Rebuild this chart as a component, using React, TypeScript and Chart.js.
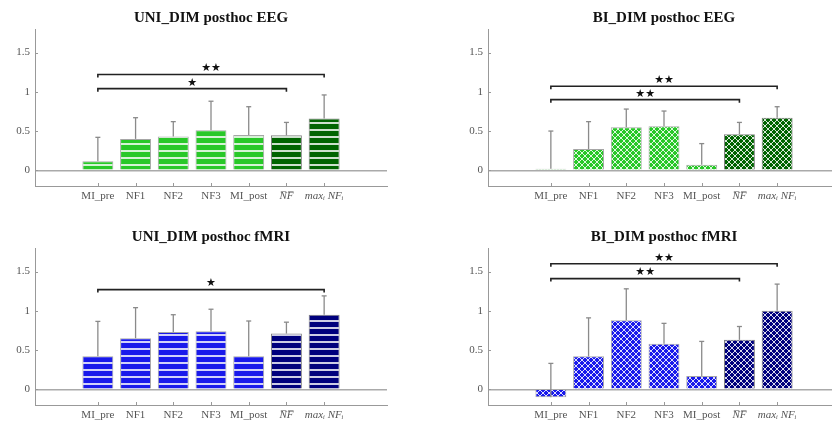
import React, { useEffect, useRef } from 'react';
import { Chart, registerables } from 'chart.js';
Chart.register(...registerables);

// ---------- data ----------
const categories = ['MI_pre', 'NF1', 'NF2', 'NF3', 'MI_post', 'N\u0305F\u0305', 'max\u1D62 NF\u1D62'];
const yTickValues = [0, 0.5, 1, 1.5];

const uniEegMean = [0.115, 0.40, 0.43, 0.51, 0.45, 0.445, 0.66];
const uniEegErr = [0.305, 0.27, 0.19, 0.37, 0.36, 0.165, 0.30];

const biEegMean = [0.02, 0.27, 0.55, 0.56, 0.07, 0.46, 0.67];
const biEegErr = [0.48, 0.35, 0.23, 0.195, 0.27, 0.15, 0.14];

const uniFmriMean = [0.42, 0.65, 0.73, 0.74, 0.42, 0.71, 0.95];
const uniFmriErr = [0.445, 0.39, 0.22, 0.28, 0.45, 0.145, 0.24];

const biFmriMean = [-0.10, 0.42, 0.88, 0.58, 0.17, 0.63, 1.00];
const biFmriErr = [0.43, 0.49, 0.40, 0.26, 0.44, 0.17, 0.34];

// significance brackets: [fromIndex, toIndex, y, label]
const uniEegSig: [number, number, number, string][] = [[1, 7, 1.22, '★★'], [1, 6, 1.04, '★']];
const biEegSig: [number, number, number, string][] = [[1, 7, 1.07, '★★'], [1, 6, 0.90, '★★']];
const uniFmriSig: [number, number, number, string][] = [[1, 7, 1.27, '★']];
const biFmriSig: [number, number, number, string][] = [[1, 7, 1.60, '★★'], [1, 6, 1.41, '★★']];

// ---------- styling helpers ----------
const LIGHT_GREEN = 'rgb(40,200,40)';
const DARK_GREEN = 'rgb(0,100,0)';
const LIGHT_BLUE = 'rgb(25,25,235)';
const DARK_BLUE = 'rgb(0,0,125)';

function stripePattern(color: string) {
  const c = document.createElement('canvas');
  c.width = 8; c.height = 7;
  const g = c.getContext('2d')!;
  g.fillStyle = color; g.fillRect(0, 0, 8, 7);
  g.fillStyle = 'rgba(255,255,255,0.8)';
  g.fillRect(0, 3, 8, 2);
  return g.createPattern(c, 'repeat')!;
}

function hatchPattern(color: string) {
  const s = 6;
  const c = document.createElement('canvas');
  c.width = s; c.height = s;
  const g = c.getContext('2d')!;
  g.fillStyle = color; g.fillRect(0, 0, s, s);
  g.strokeStyle = 'rgba(255,255,255,0.85)';
  g.lineWidth = 1.0;
  for (const k of [-s, 0, s]) {
    g.beginPath(); g.moveTo(k, 0); g.lineTo(k + s, s); g.stroke();
    g.beginPath(); g.moveTo(k + s, 0); g.lineTo(k, s); g.stroke();
  }
  return g.createPattern(c, 'repeat')!;
}

type Panel = {
  title: string;
  mean: number[];
  err: number[];
  sig: [number, number, number, string][];
  light: string;
  dark: string;
  kind: 'stripe' | 'hatch';
};

const panels: Panel[] = [
  { title: 'UNI_DIM posthoc EEG', mean: uniEegMean, err: uniEegErr, sig: uniEegSig, light: LIGHT_GREEN, dark: DARK_GREEN, kind: 'stripe' },
  { title: 'BI_DIM posthoc EEG', mean: biEegMean, err: biEegErr, sig: biEegSig, light: LIGHT_GREEN, dark: DARK_GREEN, kind: 'hatch' },
  { title: 'UNI_DIM posthoc fMRI', mean: uniFmriMean, err: uniFmriErr, sig: uniFmriSig, light: LIGHT_BLUE, dark: DARK_BLUE, kind: 'stripe' },
  { title: 'BI_DIM posthoc fMRI', mean: biFmriMean, err: biFmriErr, sig: biFmriSig, light: LIGHT_BLUE, dark: DARK_BLUE, kind: 'hatch' },
];

const SERIF = "'Liberation Serif', 'DejaVu Serif', serif";

function makeChart(canvas: HTMLCanvasElement, p: Panel) {
  const mk = p.kind === 'stripe' ? stripePattern : hatchPattern;
  const lightPat = mk(p.light);
  const darkPat = mk(p.dark);

  const overlay = {
    id: 'overlay',
    afterDatasetsDraw(chart: any) {
      const ctx = chart.ctx as CanvasRenderingContext2D;
      const xs = chart.scales.x;
      const ys = chart.scales.y;
      const area = chart.chartArea;
      ctx.save();
      // inward tick marks
      ctx.strokeStyle = '#999';
      ctx.lineWidth = 1;
      for (let i = 0; i < categories.length; i++) {
        const x = Math.round(xs.getPixelForValue(i + 1)) + 0.5;
        ctx.beginPath(); ctx.moveTo(x, area.bottom); ctx.lineTo(x, area.bottom - 3); ctx.stroke();
      }
      for (const v of yTickValues) {
        const y = Math.round(ys.getPixelForValue(v)) + 0.5;
        ctx.beginPath(); ctx.moveTo(area.left, y); ctx.lineTo(area.left + 3, y); ctx.stroke();
      }
      // error bars
      ctx.strokeStyle = '#8a8a8a';
      ctx.lineWidth = 1.3;
      for (let i = 0; i < p.mean.length; i++) {
        const x = xs.getPixelForValue(i + 1);
        const y0 = ys.getPixelForValue(p.mean[i]);
        const y1 = ys.getPixelForValue(p.mean[i] + p.err[i]);
        ctx.beginPath(); ctx.moveTo(x, y0); ctx.lineTo(x, y1); ctx.stroke();
        ctx.beginPath(); ctx.moveTo(x - 2.5, y1); ctx.lineTo(x + 2.5, y1); ctx.stroke();
      }
      // significance brackets
      ctx.strokeStyle = '#222';
      ctx.fillStyle = '#111';
      ctx.lineWidth = 1.6;
      ctx.font = "11px 'DejaVu Sans'";
      ctx.textAlign = 'center';
      ctx.textBaseline = 'middle';
      for (const [a, b, v, label] of p.sig) {
        const x1 = xs.getPixelForValue(a);
        const x2 = xs.getPixelForValue(b);
        const y = ys.getPixelForValue(v);
        ctx.beginPath();
        ctx.moveTo(x1, y + 3); ctx.lineTo(x1, y); ctx.lineTo(x2, y); ctx.lineTo(x2, y + 3);
        ctx.stroke();
        ctx.fillText(label, (x1 + x2) / 2, y - 6);
      }
      ctx.restore();
    },
  };

  return new Chart(canvas, {
    type: 'bar',
    data: {
      datasets: [
        {
          data: p.mean.map((v, i) => ({ x: i + 1, y: v })) as any,
          backgroundColor: p.mean.map((_, i) => (i < 5 ? lightPat : darkPat)) as any,
          borderColor: p.mean.map((_, i) => (i < 5 ? 'rgba(0,0,0,0.35)' : 'rgba(0,0,0,0.5)')),
          borderWidth: 1,
          barPercentage: 0.82,
          categoryPercentage: 1,
        },
      ],
    },
    options: {
      responsive: false,
      animation: false,
      layout: { padding: { left: 0, right: 29, top: 0, bottom: 0 } },
      plugins: {
        legend: { display: false },
        tooltip: { enabled: false },
        title: {
          display: true,
          text: p.title,
          fullSize: false,
          color: '#111',
          font: { family: SERIF, size: 15, weight: 'bold' },
          padding: { top: 9, bottom: 2 },
        },
      },
      scales: {
        x: {
          type: 'linear',
          min: 0,
          max: 8,
          afterBuildTicks: (s: any) => {
            s.ticks = categories.map((_, i) => ({ value: i + 1 }));
          },
          afterFit: (s: any) => { s.height = 24; },
          ticks: {
            autoSkip: false,
            maxRotation: 0,
            padding: 4,
            color: '#555',
            font: (c: any) => ({ family: SERIF, size: 11, style: c.index >= 5 ? 'italic' : 'normal' }),
            callback: (v: any) => categories[Number(v) - 1] ?? '',
          },
          grid: { display: false, drawTicks: false },
          border: { display: true, color: '#999', width: 1 },
        },
        y: {
          min: -0.2,
          max: 1.8,
          afterBuildTicks: (s: any) => {
            s.ticks = yTickValues.map((v) => ({ value: v }));
          },
          afterFit: (s: any) => { s.width = 35; },
          ticks: {
            padding: 5,
            color: '#555',
            font: { family: SERIF, size: 11 },
            callback: (v: any) => String(v),
          },
          grid: {
            drawTicks: false,
            lineWidth: 1.5,
            color: (c: any) => (c.tick && c.tick.value === 0 ? '#aaa' : 'rgba(0,0,0,0)'),
          },
          border: { display: true, color: '#999', width: 1 },
        },
      },
    } as any,
    plugins: [overlay as any],
  });
}

const positions = [
  { left: 0, top: 0 },
  { left: 453, top: 0 },
  { left: 0, top: 219 },
  { left: 453, top: 219 },
];

export default function App() {
  const refs = [useRef<HTMLCanvasElement>(null), useRef<HTMLCanvasElement>(null), useRef<HTMLCanvasElement>(null), useRef<HTMLCanvasElement>(null)];
  useEffect(() => {
    const charts = panels.map((p, i) => makeChart(refs[i].current!, p));
    return () => charts.forEach((c) => c.destroy());
  }, []);
  return (
    <div style={{ position: 'fixed', left: 0, top: 0, width: 832, height: 421, overflow: 'hidden', background: '#fff' }}>
      {positions.map((pos, i) => (
        <canvas
          key={i}
          ref={refs[i]}
          width={416}
          height={210}
          style={{ position: 'absolute', left: pos.left, top: pos.top, width: 416, height: 210 }}
        />
      ))}
    </div>
  );
}
